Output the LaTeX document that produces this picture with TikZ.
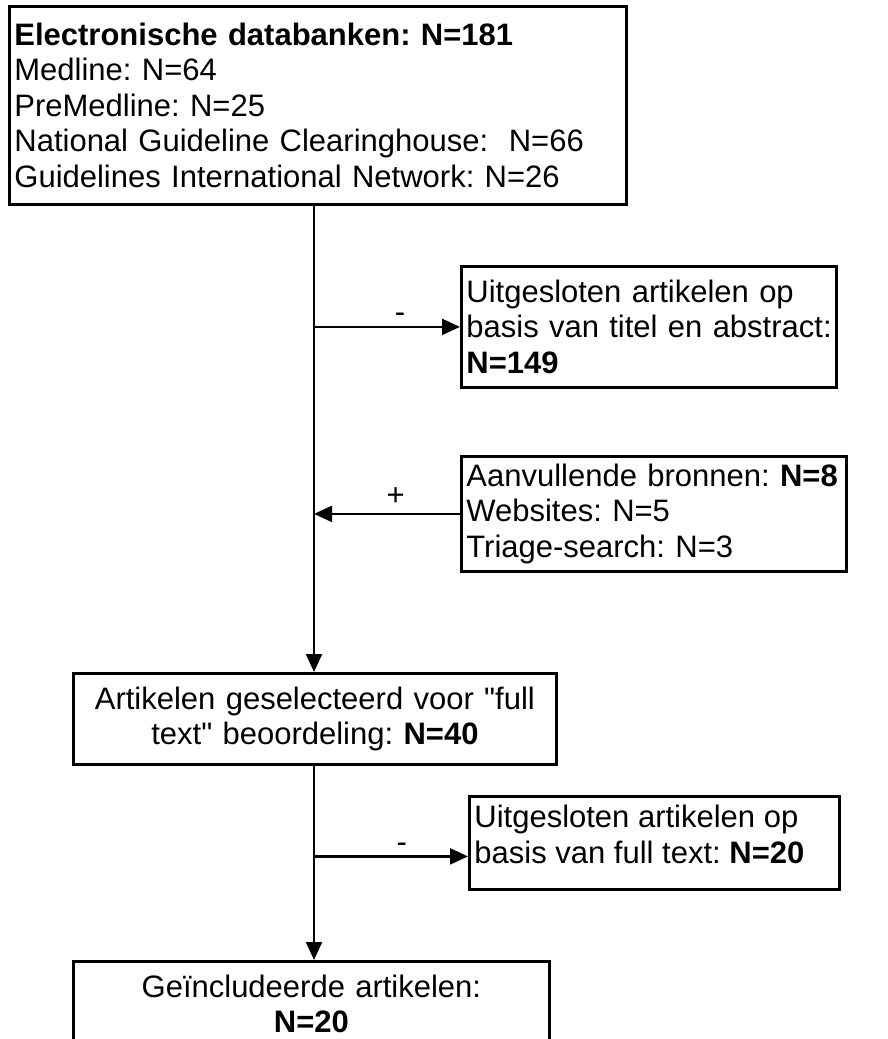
\documentclass[tikz,border=0pt]{standalone}
\usepackage{fontspec}
\setmainfont{Liberation Sans}[Ligatures=TeXOff]
\usetikzlibrary{arrows.meta}
\frenchspacing
\begin{document}
\begin{tikzpicture}[x=1pt,y=-1pt,
  box/.style={draw, line width=2.8pt, anchor=north west, inner xsep=5pt, inner ysep=4pt,
    font=\fontsize{31}{35.5}\selectfont\frenchspacing},
  arr/.style={line width=2.2pt, -{Triangle[length=18pt,width=16pt]}},
  sign/.style={font=\fontsize{31}{35.5}\selectfont, inner sep=0pt, anchor=base}]
\useasboundingbox[fill=white] (0,0) rectangle (888,1039);
\coordinate (tx) at (314,0);
\node[box, minimum width=617pt, minimum height=198pt, text width=607pt, align=left] (b1) at (8,5)
  {\textbf{Electronische databanken: N=181}\\Medline: N=64\\PreMedline: N=25\\National Guideline Clearinghouse:\ \ N=66\\Guidelines International Network: N=26};
\node[box, minimum width=375pt, minimum height=121pt, text width=365pt, align=left] (b2) at (460,265)
  {\mbox{Uitgesloten artikelen op}\\\mbox{basis van titel en abstract:}\\\textbf{N=149}};
\node[box, minimum width=385pt, minimum height=115pt, text width=375pt, align=left] (b3) at (460,455)
  {\mbox{Aanvullende bronnen: \textbf{N=8}}\\Websites: N=5\\Triage-search: N=3};
\node[box, minimum width=483pt, minimum height=91pt, text width=473pt, align=center] (b4) at (72,672)
  {Artikelen geselecteerd voor "full\\text" beoordeling: \textbf{N=40}};
\node[box, minimum width=370pt, minimum height=93pt] (b5) at (468,795)
  {\parbox[t][75pt][t]{360pt}{\raggedright Uitgesloten artikelen op\\basis van full text: \textbf{N=20}}};
\node[box, minimum width=476pt, minimum height=85pt, text width=466pt, align=center] (b6) at (72,960)
  {Geïncludeerde artikelen:\\\textbf{N=20}};
% connectors
\draw[arr] (b1.south -| tx) -- (b4.north -| tx);
\draw[arr] (b2.west -| tx) -- (b2.west) node[sign, pos=0.59, yshift=4pt] (m1) {-};
\draw[arr] (b3.west) -- (b3.west -| tx) node[sign, pos=0.44, yshift=8.5pt] (p1) {+};
\draw[arr] (b4.south -| tx) -- (b6.north -| tx);
\draw[arr] ([yshift=-13.5pt]b5.west -| tx) -- ([yshift=-13.5pt]b5.west) node[sign, pos=0.57, yshift=3.6pt] (m2) {-};
\end{tikzpicture}
\end{document}
